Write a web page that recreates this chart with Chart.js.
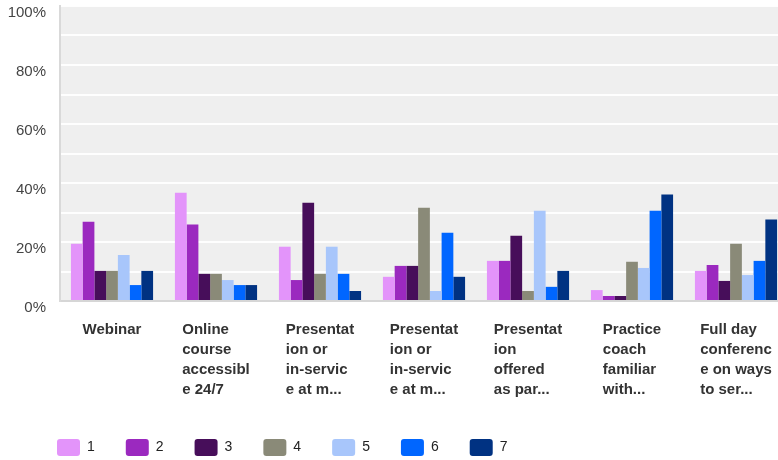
<!DOCTYPE html>
<html>
<head>
<meta charset="utf-8">
<script src="https://cdn.jsdelivr.net/npm/chart.js@4"></script>
<style>
  html, body { margin: 0; padding: 0; background: #fff; overflow: hidden; }
  #wrap { width: 790px; height: 466px; }
</style>
</head>
<body>
<div id="wrap"><canvas id="ratingChart" width="790" height="466"></canvas></div>
<script>
// categories (already wrapped the way the survey tool cut them)
const categories = [
    ['Webinar'],
    ['Online', 'course', 'accessibl', 'e 24/7'],
    ['Presentat', 'ion or', 'in-servic', 'e at m...'],
    ['Presentat', 'ion or', 'in-servic', 'e at m...'],
    ['Presentat', 'ion', 'offered', 'as par...'],
    ['Practice', 'coach', 'familiar', 'with...'],
    ['Full day', 'conferenc', 'e on ways', 'to ser...']
];

const seriesNames = ['1', '2', '3', '4', '5', '6', '7'];
const seriesColors = ['#e394fa', '#9b29bf', '#470e5a', '#8a8a78', '#a8c6fb', '#0066ff', '#003282'];

// percent of answers per rating, one array per rating
const rating1 = [19.4, 36.7, 18.4, 8.2, 13.6, 3.7, 10.2];
const rating2 = [26.9, 25.9, 7.1, 11.9, 13.6, 1.7, 12.2];
const rating3 = [10.2, 9.2, 33.3, 11.9, 22.1, 1.7, 6.8];
const rating4 = [10.2, 9.2, 9.2, 31.6, 3.4, 13.3, 19.4];
const rating5 = [15.6, 7.1, 18.4, 3.4, 30.6, 11.2, 8.8];
const rating6 = [5.4, 5.4, 9.2, 23.1, 4.8, 30.6, 13.6];
const rating7 = [10.2, 5.4, 3.4, 8.2, 10.2, 36.1, 27.6];
const ratingValues = [rating1, rating2, rating3, rating4, rating5, rating6, rating7];

const yTickLabels = ['0%', '20%', '40%', '60%', '80%', '100%'];

const labelFont = 'bold 15px "Liberation Sans", Arial, sans-serif';

// grey plot background
const plotBackground = {
    id: 'plotBackground',
    beforeDraw(chart) {
        const a = chart.chartArea;
        const c = chart.ctx;
        c.save();
        c.fillStyle = '#efefef';
        c.fillRect(a.left, a.top, a.right - a.left, a.bottom - a.top);
        c.restore();
    }
};

// x labels: lines left aligned, block centred on the category
const categoryLabels = {
    id: 'categoryLabels',
    afterDraw(chart) {
        const xs = chart.scales.x;
        const c = chart.ctx;
        c.save();
        c.font = labelFont;
        c.fillStyle = '#333';
        c.textAlign = 'left';
        c.textBaseline = 'alphabetic';
        categories.forEach(function(lines, i) {
            const w = Math.max.apply(null, lines.map(l => c.measureText(l).width));
            const x0 = xs.getPixelForTick(i) - w / 2;
            lines.forEach(function(line, j) {
                c.fillText(line, x0, xs.top + 33 + j * 20);
            });
        });
        c.restore();
    }
};

// legend starts under the plot, not at the canvas edge
const legendShift = {
    id: 'legendShift',
    afterLayout(chart) {
        if (chart.legend) {
            chart.legend.left += 19;
            chart.legend.right += 19;
        }
    }
};

const ctx = document.getElementById('ratingChart');

new Chart(ctx, {
    type: 'bar',
    data: {
        labels: categories.map(l => l.join(' ')),
        datasets: seriesNames.map(function(name, i) {
            return {
                label: name,
                data: ratingValues[i],
                backgroundColor: seriesColors[i],
                borderWidth: 0,
                categoryPercentage: 0.79,
                barPercentage: 1
            };
        })
    },
    options: {
        responsive: false,
        animation: false,
        layout: { padding: { top: 6, left: 7, right: 2, bottom: 0 } },
        scales: {
            x: {
                grid: { display: false, drawTicks: false },
                border: { color: '#d6d6d6', width: 2 },
                ticks: { display: false },
                afterFit: function(scale) {
                    scale.height = 107;
                    scale.paddingLeft = 0;
                    scale.paddingRight = 0;
                }
            },
            y: {
                min: 0,
                max: 100,
                grid: { color: 'rgba(255,255,255,0.9)', lineWidth: 2, drawTicks: false },
                border: { color: '#d9d9d9', width: 2 },
                ticks: {
                    stepSize: 10,
                    padding: 14,
                    labelOffset: 7,
                    color: '#444',
                    font: { family: '"Liberation Sans", Arial, sans-serif', size: 15 },
                    callback: function(value) {
                        return value % 20 === 0 ? yTickLabels[value / 20] : '';
                    }
                },
                afterFit: function(scale) {
                    scale.width = 53;
                    scale.paddingTop = 0;
                    scale.paddingBottom = 0;
                }
            }
        },
        plugins: {
            legend: {
                position: 'bottom',
                align: 'start',
                labels: {
                    boxWidth: 23,
                    boxHeight: 17,
                    padding: 31,
                    useBorderRadius: true,
                    borderRadius: 3,
                    color: '#222',
                    font: { family: '"Liberation Sans", Arial, sans-serif', size: 14 }
                }
            },
            tooltip: { enabled: false }
        }
    },
    plugins: [plotBackground, categoryLabels, legendShift]
});
</script>
</body>
</html>
